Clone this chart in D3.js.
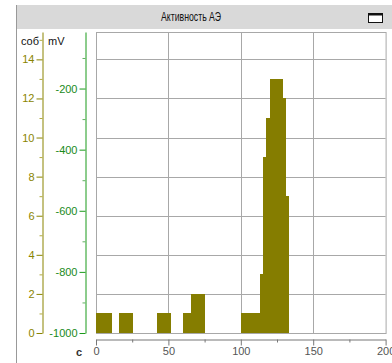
<!DOCTYPE html>
<html>
<head>
<meta charset="utf-8">
<script src="https://cdn.jsdelivr.net/npm/d3@7"></script>
<style>
  body { margin: 0; background: #fff; }
  svg { display: block; font-family: "Liberation Sans", Arial, sans-serif; }
</style>
</head>
<body>
<div id="chart"></div>
<script>
// histogram bins: start (s), end (s), hit count
var binStart = [0, 16, 41.8, 60.3, 65.4, 100, 113.3, 115.2, 117.4, 120.4, 129, 131.1];
var binEnd   = [11.2, 25.7, 51.5, 65.4, 75.2, 113.3, 115.2, 117.4, 120.4, 129, 131.1, 133.2];
var counts   = [1, 1, 1, 1, 2, 1, 3, 9, 11, 13, 12, 7];

var countTicks = [0, 2, 4, 6, 8, 10, 12, 14];
var mvTicks = [-1000, -800, -600, -400, -200];
var xTicks = [0, 50, 100, 150, 200];

var title = "Активность АЭ";

var width = 392, height = 363;
var plot = { left: 96, right: 385.6, top: 32, bottom: 333 };

var svg = d3.select("#chart").append("svg")
  .attr("width", width)
  .attr("height", height);

// panel frame + title bar
svg.append("rect").attr("x", 16).attr("y", 5).attr("width", width - 16).attr("height", 24)
  .attr("fill", "#d9d9d9");
svg.append("line").attr("x1", 16.5).attr("x2", 16.5).attr("y1", 5).attr("y2", height)
  .attr("stroke", "#999");
svg.append("text").attr("x", 191).attr("y", 21).attr("text-anchor", "middle")
  .attr("font-size", 12).attr("fill", "#111")
  .attr("textLength", 60).attr("lengthAdjust", "spacingAndGlyphs")
  .text(title);
svg.append("rect").attr("x", 368.5).attr("y", 13.5).attr("width", 14).attr("height", 9)
  .attr("fill", "#fff").attr("stroke", "#111").attr("stroke-width", 1);
svg.append("line").attr("x1", 368).attr("x2", 383).attr("y1", 14.5).attr("y2", 14.5)
  .attr("stroke", "#111").attr("stroke-width", 2);

var x = d3.scaleLinear().domain([0, 200]).range([plot.left, plot.right]);
var y = d3.scaleLinear().domain([0, 15.4]).range([plot.bottom, plot.top]);
var yMv = d3.scaleLinear().domain([-1000, -15]).range([plot.bottom, plot.top]);

// plain hyphen minus like the original, not U+2212
var fmt = function(d) { return String(d); };

// grid
var grid = svg.append("g").attr("stroke", "#a8a8a8").attr("stroke-width", 1);
grid.selectAll(".h").data(countTicks.slice(1)).enter().append("line")
  .attr("x1", plot.left).attr("x2", plot.right)
  .attr("y1", function(d) { return Math.round(y(d)) + 0.5; })
  .attr("y2", function(d) { return Math.round(y(d)) + 0.5; });
grid.selectAll(".v").data(xTicks.slice(1, -1)).enter().append("line")
  .attr("y1", plot.top).attr("y2", plot.bottom)
  .attr("x1", function(d) { return Math.round(x(d)) + 0.5; })
  .attr("x2", function(d) { return Math.round(x(d)) + 0.5; });
svg.append("rect")
  .attr("x", plot.left + 0.5).attr("y", plot.top + 0.5)
  .attr("width", plot.right - plot.left).attr("height", plot.bottom - plot.top)
  .attr("fill", "none").attr("stroke", "#a8a8a8");

// bars
svg.append("g").selectAll("rect").data(counts).enter().append("rect")
  .attr("x", function(d, i) { return x(binStart[i]); })
  .attr("width", function(d, i) { return x(binEnd[i]) - x(binStart[i]); })
  .attr("y", function(d) { return y(d); })
  .attr("height", function(d) { return y(0) - y(d); })
  .attr("fill", "#857d00")
  .attr("shape-rendering", "crispEdges");

function styleAxis(g, color, textColor) {
  g.selectAll("path, line").attr("stroke", color);
  g.selectAll("text").attr("fill", textColor).attr("font-size", 11)
    .attr("font-family", "Liberation Sans, Arial, sans-serif");
}

// count axis (olive)
var countAxis = svg.append("g").attr("transform", "translate(42.5,0)")
  .call(d3.axisLeft(y).tickValues(countTicks).tickSize(6).tickSizeOuter(0).tickPadding(2)
    .tickFormat(fmt));
styleAxis(countAxis, "#8a8400", "#8a8400");
svg.append("g").attr("transform", "translate(42.5,0)")
  .call(d3.axisLeft(y).tickValues([1, 3, 5, 7, 9, 11, 13, 15]).tickSize(3).tickSizeOuter(0).tickFormat(""))
  .call(function(g) { g.select("path").remove(); styleAxis(g, "#b0aa40", "#000"); });

// amplitude axis (green)
var mvAxis = svg.append("g").attr("transform", "translate(85.5,0)")
  .call(d3.axisLeft(yMv).tickValues(mvTicks).tickSize(6).tickSizeOuter(0).tickPadding(2)
    .tickFormat(fmt));
styleAxis(mvAxis, "#1a9a1a", "#1a8a1a");
svg.append("g").attr("transform", "translate(85.5,0)")
  .call(d3.axisLeft(yMv).tickValues([-900, -700, -500, -300, -100]).tickSize(3).tickSizeOuter(0).tickFormat(""))
  .call(function(g) { g.select("path").remove(); styleAxis(g, "#60b060", "#000"); });

// time axis
var xAxis = svg.append("g").attr("transform", "translate(0,339.5)")
  .call(d3.axisBottom(x).tickValues(xTicks).tickSize(6).tickSizeOuter(0).tickPadding(2)
    .tickFormat(fmt));
styleAxis(xAxis, "#777", "#555");
svg.append("g").attr("transform", "translate(0,339.5)")
  .call(d3.axisBottom(x).tickValues([25, 75, 125, 175]).tickSize(3).tickSizeOuter(0).tickFormat(""))
  .call(function(g) { g.select("path").remove(); styleAxis(g, "#777", "#000"); });

// unit labels
svg.append("text").attr("x", 21).attr("y", 45).attr("font-size", 11).attr("fill", "#111").text("соб");
svg.append("text").attr("x", 48).attr("y", 45).attr("font-size", 11).attr("fill", "#111").text("mV");
svg.append("text").attr("x", 79).attr("y", 356).attr("text-anchor", "middle")
  .attr("font-size", 11).attr("font-weight", "bold").attr("fill", "#333").text("с");
</script>
</body>
</html>
